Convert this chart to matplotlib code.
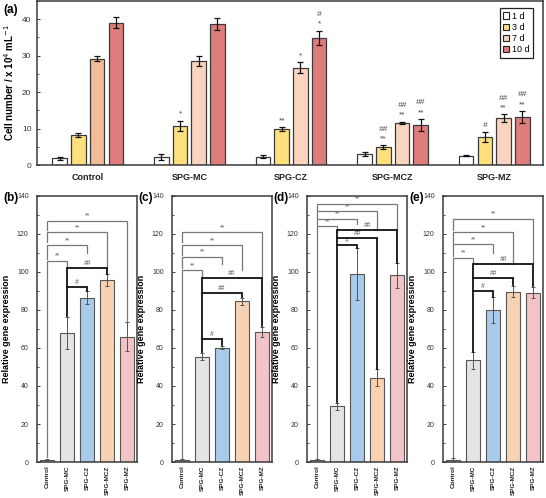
import matplotlib
matplotlib.use("Agg")
import matplotlib.pyplot as plt
from matplotlib.patches import Patch
from matplotlib.ticker import MultipleLocator

plt.rcParams['font.family'] = ['Liberation Sans', 'DejaVu Sans']

# ---------------- data: panel (a) ----------------
groups = ["Control", "SPG-MC", "SPG-CZ", "SPG-MCZ", "SPG-MZ"]
days = ["1 d", "3 d", "7 d", "10 d"]
cell_1d = [1.8, 2.2, 2.3, 3.1, 2.6]
cell_3d = [8.2, 10.7, 9.8, 4.9, 7.7]
cell_7d = [29.2, 28.6, 26.7, 11.6, 12.8]
cell_10d = [39.1, 38.6, 34.9, 11.0, 13.2]
err_1d = [0.3, 0.7, 0.5, 0.5, 0.2]
err_3d = [0.6, 1.5, 0.6, 0.5, 1.4]
err_7d = [0.6, 1.3, 1.5, 0.3, 1.1]
err_10d = [1.5, 1.6, 2.0, 1.6, 1.6]
# significance marks (group index, day index, lines from bottom to top)
marks_a = [
    (1, 1, ["*"]),
    (2, 1, ["**"]), (2, 2, ["*"]), (2, 3, ["*", "#"]),
    (3, 1, ["**", "##"]), (3, 2, ["**", "##"]), (3, 3, ["**", "##"]),
    (4, 1, ["#"]), (4, 2, ["**", "##"]), (4, 3, ["**", "##"]),
]

# ---------------- data: panels (b)-(e) ----------------
samples = ["Control", "SPG-MC", "SPG-CZ", "SPG-MCZ", "SPG-MZ"]
expr_b = [1.0, 68.0, 86.5, 95.8, 66.0]
errb_b = [0.5, 8.5, 3.5, 3.0, 7.5]
expr_c = [1.0, 55.5, 60.2, 84.5, 68.5]
errb_c = [0.4, 2.0, 0.8, 2.0, 2.5]
expr_d = [1.0, 29.4, 99.0, 44.3, 98.3]
errb_d = [0.5, 1.8, 13.5, 4.5, 6.5]
expr_e = [1.2, 53.5, 80.0, 89.7, 89.2]
errb_e = [1.0, 4.5, 7.0, 3.0, 3.0]

# comparison brackets: (i, j, level, left-leg bottom, right-leg bottom, label)
br_b = [(0, 1, 106, 2.5, 102, "**"), (0, 2, 114, 107, 110, "**"),
        (0, 3, 121, 116, 102, "**"), (0, 4, 127, 122, 74, "**"),
        (1, 2, 92, 77, 90, "#"), (1, 3, 102, 92, 99, "##")]
br_c = [(0, 1, 101, 2, 97, "**"), (0, 2, 108, 102, 104, "**"),
        (0, 3, 114, 109, 101, "**"), (0, 4, 121, 116, 97, "**"),
        (1, 2, 64.5, 58, 61.5, "#"), (1, 3, 89, 64.5, 87, "##"),
        (1, 4, 97, 89, 71.5, "##")]
br_d = [(0, 1, 124, 2, 121, "**"), (0, 2, 128, 124.5, 125, "**"),
        (0, 3, 132, 128.5, 122, "**"), (0, 4, 136, 132.5, 122, "**"),
        (1, 2, 114, 31.5, 112.5, "#"), (1, 3, 118, 114, 49, "##"),
        (1, 4, 122, 118, 105, "##")]
br_e = [(0, 1, 107.5, 2.5, 104, "**"), (0, 2, 114.5, 108.5, 110, "**"),
        (0, 3, 121, 115.5, 104, "**"), (0, 4, 128, 122, 104, "**"),
        (1, 2, 90, 58, 87, "#"), (1, 3, 97, 90, 93, "##"),
        (1, 4, 104, 97, 92.5, "##")]

# ---------------- styling ----------------
W, H = 546, 498
fig = plt.figure(figsize=(W / 100, H / 100), dpi=100)

def px_axes(l, t, r, b):
    return fig.add_axes([l / W, 1 - b / H, (r - l) / W, (b - t) / H])

edge = "#3a3a3a"
day_colors = ["#ffffff", "#fde07c", "#f9d5bf", "#df7c7c"]
ctrl7_color = "#f3bb96"

def style_axes(ax, fs, pad):
    for s in ax.spines.values():
        s.set_color(edge)
        s.set_linewidth(1.1)
    ax.tick_params(axis='y', which='both', direction='in', labelsize=fs,
                   colors=edge, labelcolor="#333333", pad=pad)
    ax.tick_params(axis='y', which='major', length=2.5, width=0.7)
    ax.tick_params(axis='y', which='minor', length=1.5, width=0.6)

# ---------------- panel (a) ----------------
ax = px_axes(37, 1, 543, 165)
style_axes(ax, 6, 4)
vals = [cell_1d, cell_3d, cell_7d, cell_10d]
errs = [err_1d, err_3d, err_7d, err_10d]
bw = 0.143
step = 0.184
offs = [(k - 1.5) * step for k in range(4)]
for k in range(4):
    xs = [g + offs[k] for g in range(len(groups))]
    cols = [day_colors[k]] * len(groups)
    if k == 2:
        cols[0] = ctrl7_color
    ax.bar(xs, vals[k], width=bw, color=cols, edgecolor=edge, linewidth=0.9, zorder=2)
    ax.errorbar(xs, vals[k], yerr=errs[k], fmt='none', ecolor='#111111',
                elinewidth=0.9, capsize=2, capthick=0.9, zorder=3)
for g, k, lines in marks_a:
    x = g + offs[k]
    y = vals[k][g] + errs[k][g] + 0.8
    for n, t in enumerate(lines):
        ax.text(x, y + n * 2.7, t, ha='center', va='bottom', fontsize=6,
                color='#444444', style='italic' if '#' in t else 'normal')
ax.set_xlim(-0.5, 4.48)
ax.set_ylim(0, 45)
ax.yaxis.set_major_locator(MultipleLocator(10))
ax.yaxis.set_minor_locator(MultipleLocator(5))
ax.set_xticks(range(len(groups)))
ax.set_xticklabels(groups, fontsize=6.5, fontweight='bold', color='#222222')
ax.tick_params(axis='x', length=0, pad=6)
ax.set_ylabel("Cell number / x 10$^{4}$ mL$^{-1}$", fontsize=7, fontweight='bold',
              labelpad=4)
handles = [Patch(facecolor=c, edgecolor='#222222', linewidth=0.8) for c in day_colors]
leg = ax.legend(handles, days, loc='upper right', fontsize=6.5, fancybox=False,
                edgecolor='#222222', framealpha=1, handlelength=0.7,
                handleheight=0.7, handletextpad=0.3, borderpad=0.4,
                labelspacing=0.25, bbox_to_anchor=(0.99, 0.985))
leg.get_frame().set_linewidth(0.9)
fig.text(3 / W, 1 - 10 / H, "(a)", fontsize=8.5, fontweight='bold', va='center')

# ---------------- panels (b)-(e) ----------------
s_colors = ["#e2e2e2", "#e4e4e4", "#a9cbea", "#f9d2b4", "#f2c3c7"]
panels = [("(b)", 37, expr_b, errb_b, br_b),
          ("(c)", 172, expr_c, errb_c, br_c),
          ("(d)", 307, expr_d, errb_d, br_d),
          ("(e)", 443, expr_e, errb_e, br_e)]
for lab, left, vals_p, errs_p, brs in panels:
    ax = px_axes(left, 196, left + 100, 462)
    style_axes(ax, 5, 6)
    xs = list(range(len(samples)))
    ax.bar(xs, vals_p, width=0.7, color=s_colors, edgecolor='#555555',
           linewidth=0.8, zorder=2)
    ax.errorbar(xs, vals_p, yerr=errs_p, fmt='none', ecolor='#555555',
                elinewidth=0.7, capsize=1.3, capthick=0.7, zorder=3)
    for i, j, h, yl, yr, t in brs:
        black = '#' in t
        ax.plot([i, i, j, j], [yl, h, h, yr],
                color='#111111' if black else '#777777',
                lw=1.3 if black else 0.9, zorder=4, solid_joinstyle='miter')
        ax.text((i + j) / 2, h + 0.6, t, ha='center', va='bottom',
                fontsize=4.8, color='#555555',
                style='italic' if black else 'normal')
    ax.set_xlim(-0.5, 4.5)
    ax.set_ylim(0, 140)
    ax.yaxis.set_major_locator(MultipleLocator(20))
    ax.yaxis.set_minor_locator(MultipleLocator(10))
    ax.set_xticks(xs)
    ax.set_xticklabels(samples, rotation=90, fontsize=4.6, fontweight='bold',
                       color='#222222')
    ax.tick_params(axis='x', length=0, pad=2.5)
    ax.set_ylabel("Relative gene expression", fontsize=6.5, fontweight='bold',
                  labelpad=4)
    fig.text((left - 34) / W, 1 - 198 / H, lab, fontsize=8.5, fontweight='bold',
             va='center')

fig.savefig("out.png", dpi=100)
